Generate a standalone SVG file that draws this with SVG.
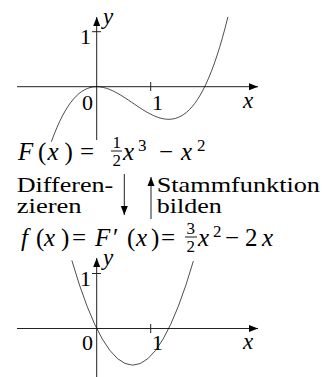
<svg xmlns="http://www.w3.org/2000/svg" width="327" height="377" viewBox="0 0 327 377" font-family="Liberation Serif, DejaVu Serif, serif">
<defs>
<marker id="ah" markerUnits="userSpaceOnUse" markerWidth="10" markerHeight="8" refX="9" refY="4" orient="auto">
<path d="M0,0.5 L9,4 L0,7.5 Z" fill="#000"/>
</marker>
<style>
.ax{stroke:#222;stroke-width:1;fill:none}
.tk{stroke:#222;stroke-width:1}
.cv{stroke:#000;stroke-width:0.7;fill:none}
.m{font-size:25px}
.i{font-style:italic}
.s{font-size:17px}
.t{font-size:21px}
.d{font-size:22px}
.a{font-size:23px;font-style:italic}
.fb{stroke:#000;stroke-width:0.9}
</style>
</defs>

<g id="graph-F">
<line class="ax" x1="17" y1="86.7" x2="258" y2="86.7" marker-end="url(#ah)"/>
<line class="ax" x1="96.7" y1="140" x2="96.7" y2="17" marker-end="url(#ah)"/>
<line class="tk" x1="150.7" y1="82" x2="150.7" y2="91"/>
<line class="tk" x1="92" y1="31.7" x2="101" y2="31.7"/>
<path class="cv" d="M51.34,141.81 C110.2,-22.36 169.06,256.52 227.92,16.87"/>
<text class="d" x="80" y="44">1</text>
<text class="a" x="103" y="24">y</text>
<text class="d" x="82" y="110">0</text>
<text class="d" x="152" y="110">1</text>
<text class="a" x="243" y="108">x</text>
</g>

<g id="eq-F">
<text class="m"><tspan class="i" x="18" y="160">F</tspan><tspan x="38" y="160">(</tspan><tspan class="i" x="47.5" y="160">x</tspan><tspan x="64.5" y="160">)</tspan><tspan x="80" y="160">=</tspan></text>
<text class="m s" x="112.5" y="148">1</text>
<line class="fb" x1="111" y1="151" x2="122" y2="151"/>
<text class="m s" x="112.5" y="166">2</text>
<text class="m"><tspan class="i" x="123" y="160">x</tspan><tspan class="s" x="138" y="151">3</tspan><tspan x="159" y="160">−</tspan><tspan class="i" x="181" y="160">x</tspan><tspan class="s" x="197" y="151">2</tspan></text>
</g>

<g id="connectors">
<line class="ax" x1="124.3" y1="174" x2="124.3" y2="215" marker-end="url(#ah)"/>
<line class="ax" x1="151" y1="219" x2="151" y2="177" marker-end="url(#ah)"/>
</g>

<g id="label-diff">
<text class="t" x="16.7" y="191.7" textLength="96.6" lengthAdjust="spacingAndGlyphs">Differen-</text>
<text class="t" x="16.7" y="213.3" textLength="65" lengthAdjust="spacingAndGlyphs">zieren</text>
</g>
<g id="label-stamm">
<text class="t" x="156.7" y="191.7" textLength="163.3" lengthAdjust="spacingAndGlyphs">Stammfunktion</text>
<text class="t" x="156.7" y="213.3" textLength="65" lengthAdjust="spacingAndGlyphs">bilden</text>
</g>

<g id="eq-f">
<text class="m"><tspan class="i" x="21" y="246">f</tspan><tspan x="36" y="246">(</tspan><tspan class="i" x="44" y="246">x</tspan><tspan x="61" y="246">)</tspan><tspan x="72" y="246">=</tspan><tspan class="i" x="95" y="246">F</tspan><tspan x="113" y="246">′</tspan><tspan x="127" y="246">(</tspan><tspan class="i" x="136" y="246">x</tspan><tspan x="151" y="246">)</tspan><tspan x="161" y="246">=</tspan></text>
<text class="m s" x="186.5" y="234">3</text>
<line class="fb" x1="185" y1="237" x2="197" y2="237"/>
<text class="m s" x="186.5" y="252">2</text>
<text class="m"><tspan class="i" x="198" y="246">x</tspan><tspan class="s" x="213" y="237">2</tspan><tspan x="225" y="246">−</tspan><tspan x="245" y="246">2</tspan><tspan class="i" x="262" y="246">x</tspan></text>
</g>

<g id="graph-f">
<line class="ax" x1="17" y1="328.5" x2="258" y2="328.5" marker-end="url(#ah)"/>
<line class="ax" x1="96.7" y1="377" x2="96.7" y2="258" marker-end="url(#ah)"/>
<line class="tk" x1="150.7" y1="324" x2="150.7" y2="333"/>
<line class="tk" x1="92" y1="273.5" x2="101" y2="273.5"/>
<path class="cv" d="M71.86,260.44 Q132.61,469.58 193.36,261.06"/>
<text class="d" x="80" y="286">1</text>
<text class="a" x="103" y="265">y</text>
<text class="d" x="82" y="350">0</text>
<text class="d" x="152" y="350">1</text>
<text class="a" x="243" y="349">x</text>
</g>
</svg>
